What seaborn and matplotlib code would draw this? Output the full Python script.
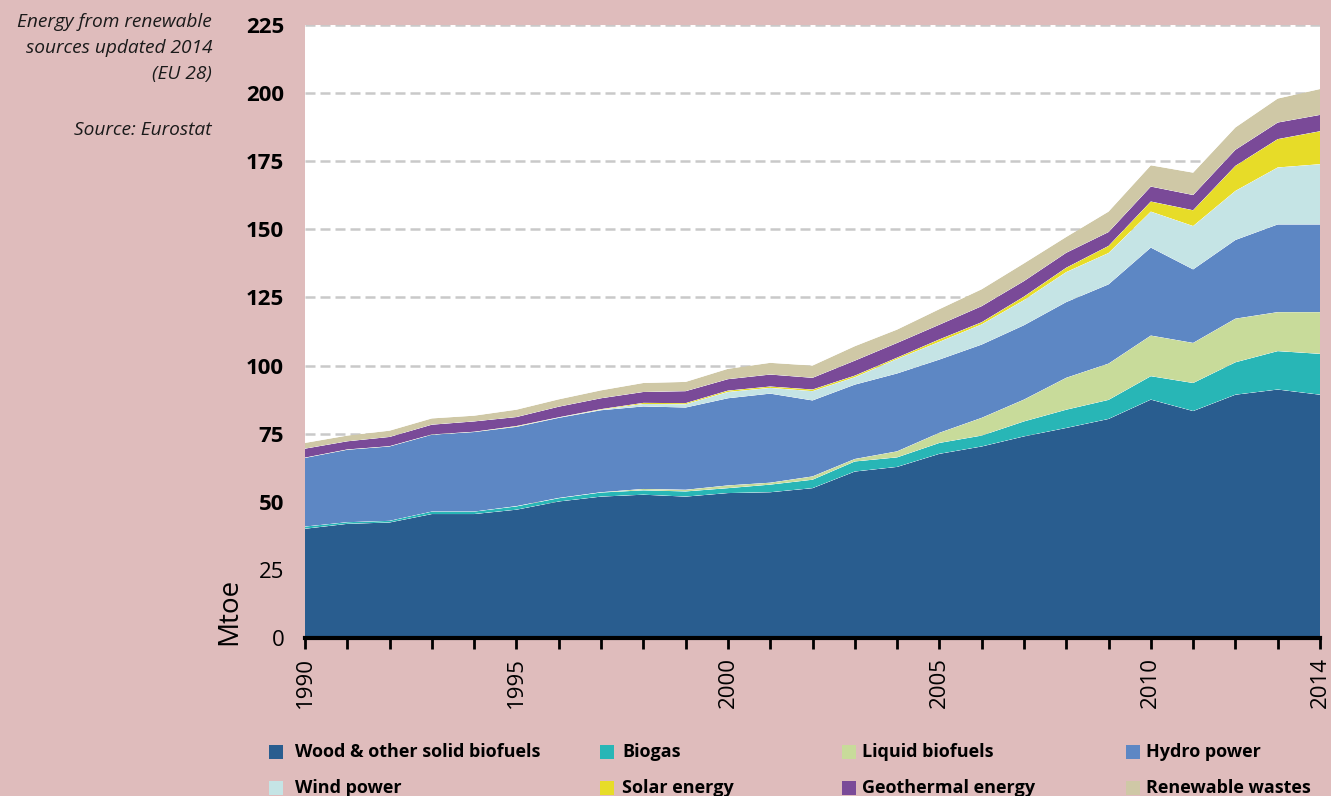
import matplotlib
matplotlib.use("Agg")
import matplotlib.pyplot as plt
from matplotlib.patches import Rectangle
import pandas as pd
import seaborn as sns
import seaborn.objects as so

# Primary production of renewable energy, EU 28, Mtoe
years = list(range(1990, 2015))
wood = [40.1, 41.9, 42.4, 45.5, 45.5, 47.1, 50.1, 51.9, 52.6, 51.9, 53.2, 53.5, 55.0,
        61.1, 62.8, 67.6, 70.3, 74.0, 77.1, 80.4, 87.5, 83.3, 89.3, 91.2, 89.3]
biogas = [0.8, 0.6, 0.6, 0.9, 0.9, 1.2, 1.2, 1.5, 1.6, 1.9, 1.8, 2.8, 3.1,
          3.7, 3.5, 4.0, 4.0, 5.5, 6.7, 7.0, 8.6, 10.3, 11.9, 14.1, 15.0]
liquid = [0.0, 0.0, 0.0, 0.0, 0.0, 0.1, 0.1, 0.1, 0.5, 0.6, 1.0, 0.7, 1.2,
          0.9, 2.2, 3.7, 6.5, 8.0, 11.7, 13.3, 14.9, 14.7, 16.0, 14.3, 15.3]
hydro = [25.2, 26.6, 27.3, 28.2, 29.2, 29.1, 29.4, 30.1, 30.3, 30.2, 32.0, 32.7, 27.9,
         27.3, 28.6, 26.9, 26.9, 27.3, 27.8, 29.1, 32.3, 27.0, 28.9, 32.2, 32.2]
wind = [0.0, 0.0, 0.0, 0.0, 0.0, 0.1, 0.1, 0.2, 0.9, 1.2, 2.3, 2.1, 3.4,
        2.7, 5.3, 6.5, 7.4, 9.2, 11.0, 11.5, 13.2, 15.9, 18.0, 20.9, 22.1]
solar = [0.1, 0.1, 0.1, 0.1, 0.1, 0.2, 0.1, 0.2, 0.4, 0.4, 0.5, 0.5, 0.6,
         0.6, 0.5, 0.9, 0.8, 1.3, 1.6, 2.6, 3.7, 5.8, 9.2, 10.4, 12.1]
geothermal = [3.3, 3.0, 3.4, 3.6, 3.8, 3.3, 3.9, 4.0, 4.0, 4.4, 4.2, 4.4, 4.3,
              5.5, 5.4, 5.4, 5.9, 5.7, 5.5, 5.1, 5.5, 5.6, 5.9, 6.1, 6.0]
wastes = [2.1, 2.1, 2.3, 2.3, 2.1, 2.7, 2.7, 2.9, 3.3, 3.4, 3.8, 4.3, 4.5,
          5.3, 4.9, 5.7, 6.2, 6.5, 5.8, 7.5, 7.8, 8.2, 8.2, 8.8, 9.5]

sources = ["Wood & other solid biofuels", "Biogas", "Liquid biofuels", "Hydro power",
           "Wind power", "Solar energy", "Geothermal energy", "Renewable wastes"]
series = [wood, biogas, liquid, hydro, wind, solar, geothermal, wastes]
colors = ["#295d8f", "#28b6b6", "#c8db9a", "#5d87c4",
          "#c5e4e5", "#e7dc28", "#7a4a98", "#cfc8a6"]

x_major = [1990, 1995, 2000, 2005, 2010, 2014]
y_ticks = [0, 25, 50, 75, 100, 125, 150, 175, 200, 225]

note_lines = ["Energy from renewable", "sources updated 2014", "(EU 28)"]
source_note = "Source: Eurostat"

BG = "#dfbcbc"

# long-form table, ordered so each year stacks wood first and wastes last
df = pd.DataFrame(
    [(y, name, v) for name, vals in zip(sources, series) for y, v in zip(years, vals)],
    columns=["year", "source", "mtoe"],
)

sns.set_theme(style="white")
plt.rcParams["font.family"] = ["Open Sans", "DejaVu Sans"]

fig = plt.figure(figsize=(13.31, 7.96), dpi=100, facecolor=BG)
ax = fig.add_axes([305 / 1331, 158 / 796, 1015 / 1331, 613 / 796])

(
    so.Plot(df, x="year", y="mtoe", color="source")
    .add(so.Area(alpha=1, edgewidth=0), so.Stack(), legend=False)
    .scale(color=dict(zip(sources, colors)))
    .on(ax)
    .plot()
)

ax.set_facecolor("white")
ax.set_xlim(1990, 2014)
ax.set_ylim(0, 225)
ax.set_xlabel("")
ax.set_ylabel("")

ax.set_axisbelow(True)
ax.grid(False)
ax.yaxis.grid(True, color="#c9c9c9", linestyle=(0, (4, 2)), linewidth=1.8)

ax.set_yticks(y_ticks)
ax.set_yticklabels([str(v) for v in y_ticks])
for v, lab in zip(y_ticks, ax.get_yticklabels()):
    lab.set_fontweight("bold" if v >= 50 else "normal")
ax.tick_params(axis="y", length=0, pad=15, labelsize=16, labelcolor="black")

ax.set_xticks(x_major)
ax.set_xticklabels([str(v) for v in x_major])
ax.set_xticks(years, minor=True)
ax.tick_params(axis="x", which="both", direction="out", length=8, width=2,
               color="black", bottom=True)
ax.tick_params(axis="x", which="major", labelsize=16, labelrotation=90, pad=6,
               labelcolor="black")

for side in ["left", "top", "right"]:
    ax.spines[side].set_visible(False)
ax.spines["bottom"].set_visible(True)
ax.spines["bottom"].set_color("black")
ax.spines["bottom"].set_linewidth(3)

fig.text(229 / 1331, 1 - 611 / 796, "Mtoe", rotation=90, ha="center", va="center",
         fontsize=20, color="black")

# notes at the top left
for line, yc in zip(note_lines, [22, 48, 74]):
    fig.text(212 / 1331, 1 - yc / 796, line, ha="right", va="center",
             style="italic", fontsize=13.8, color="#1a1a1a")
fig.text(212 / 1331, 1 - 130 / 796, source_note, ha="right", va="center",
         style="italic", fontsize=13.8, color="#1a1a1a")

# legend: four columns, two rows
marker_x = [269, 600, 842, 1126]
text_x = [295, 622, 862, 1146]
row_y = [752, 788]
for i, (name, col) in enumerate(zip(sources, colors)):
    r, c = divmod(i, 4)
    fig.patches.append(Rectangle(
        (marker_x[c] / 1331, 1 - (row_y[r] + 7) / 796), 14 / 1331, 14 / 796,
        transform=fig.transFigure, facecolor=col, edgecolor="none"))
    fig.text(text_x[c] / 1331, 1 - row_y[r] / 796, name, ha="left", va="center",
             fontsize=13, fontweight="bold", color="black")

fig.savefig("out.png", dpi=100, facecolor=BG)
